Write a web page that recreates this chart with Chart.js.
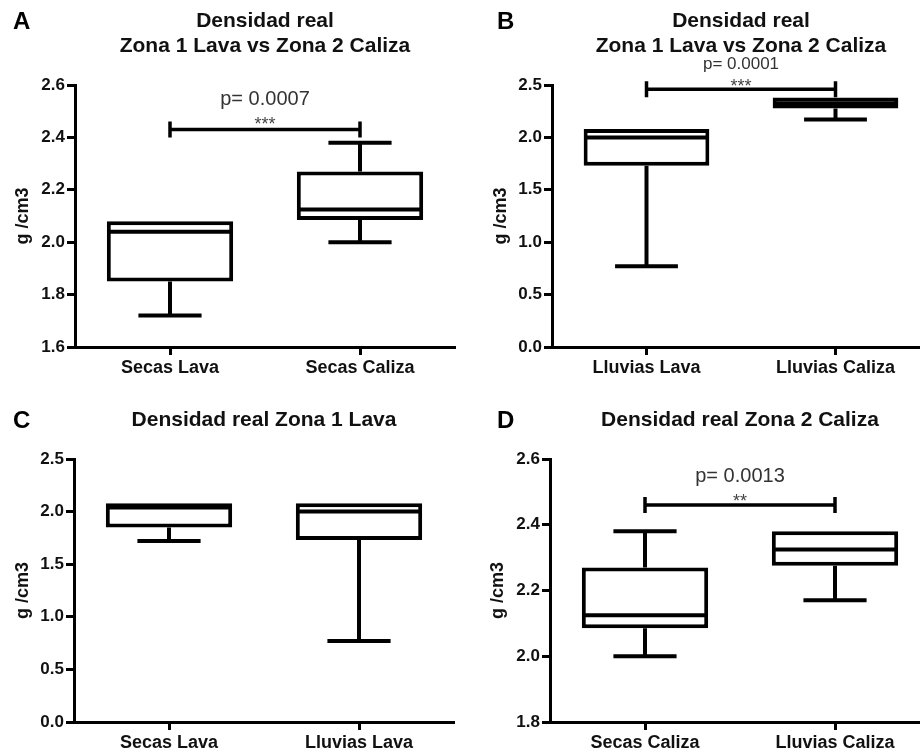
<!DOCTYPE html>
<html>
<head>
<meta charset="utf-8">
<script src="https://cdn.jsdelivr.net/npm/chart.js@4.4.1/dist/chart.umd.min.js"></script>
<style>
  body { margin: 0; background: #fff; }
  .panel { position: absolute; overflow: hidden; }
</style>
</head>
<body>
<div class="panel" style="left:0;top:0;width:460px;height:375px"><canvas id="pA" width="460" height="375"></canvas></div>
<div class="panel" style="left:460px;top:0;width:460px;height:375px"><canvas id="pB" width="470" height="375"></canvas></div>
<div class="panel" style="left:0;top:375px;width:460px;height:376px"><canvas id="pC" width="460" height="376"></canvas></div>
<div class="panel" style="left:460px;top:375px;width:460px;height:376px"><canvas id="pD" width="470" height="376"></canvas></div>

<script>
// ********* Data (box plot summaries, g/cm3) *********
const groups  = ['Secas Lava', 'Secas Caliza', 'Lluvias Lava', 'Lluvias Caliza'];
const mins    = [1.72, 2.00, 0.77, 2.17];
const q1s     = [1.85, 2.085, 1.73, 2.275];
const medians = [2.04, 2.125, 2.00, 2.325];
const q3s     = [2.08, 2.27, 2.08, 2.38];
const maxs    = [2.08, 2.38, 2.08, 2.38];

// which groups go in each panel
const panelMembers = [[0, 1], [2, 3], [0, 2], [1, 3]];
const panelLetters = ['A', 'B', 'C', 'D'];
const panelTitles  = [
  ['Densidad real', 'Zona 1 Lava vs Zona 2 Caliza'],
  ['Densidad real', 'Zona 1 Lava vs Zona 2 Caliza'],
  ['Densidad real Zona 1 Lava'],
  ['Densidad real Zona 2 Caliza']
];
const yMins  = [1.6, 0.0, 0.0, 1.8];
const yMaxs  = [2.6, 2.5, 2.5, 2.6];
const ySteps = [0.2, 0.5, 0.5, 0.2];

// significance annotations
const pValues = ['p= 0.0007', 'p= 0.0001', null, 'p= 0.0013'];
const stars   = ['***', '***', null, '**'];
const sigBarY = [2.43, 2.46, null, 2.46];

const FONT = "'Liberation Sans', Arial, sans-serif";

// ********* layout per panel (pixels, not data) *********
const layouts = [
  { id: 'pA', pad: { top: 85, left: 12, right: 5, bottom: 0 }, yW: 63, xH: 28, letterX: 13, letterY: 22, titleY: [21, 46], pSize: 20, pOff: 30, sOff: 10 },
  { id: 'pB', pad: { top: 85, left: 30, right: 0, bottom: 0 }, yW: 62, xH: 28, letterX: 37, letterY: 22, titleY: [21, 46], pSize: 17, pOff: 25, sOff: 7 },
  { id: 'pC', pad: { top: 84, left: 12, right: 6, bottom: 0 }, yW: 62, xH: 29, letterX: 13, letterY: 46, titleY: [45] },
  { id: 'pD', pad: { top: 84, left: 27, right: 0, bottom: 0 }, yW: 63, xH: 29, letterX: 37, letterY: 46, titleY: [45], pSize: 20, pOff: 29, sOff: 8 }
];

// ********* plugin: whiskers, medians, titles, significance *********
const boxExtras = {
  id: 'boxExtras',
  afterDatasetsDraw(chart) {
    const k = chart.options.plugins.boxExtras.panel;
    const members = panelMembers[k];
    const ctx = chart.ctx;
    const xs = chart.scales.x, ys = chart.scales.y;
    const bars = chart.getDatasetMeta(0).data;
    ctx.save();
    ctx.strokeStyle = '#000';
    ctx.lineWidth = 4;
    ctx.lineCap = 'butt';
    members.forEach((g, j) => {
      const x = xs.getPixelForValue(j);
      const half = bars[j].width / 2;
      const cap = half / 2;
      ctx.beginPath();
      // median
      ctx.moveTo(x - half + 1, ys.getPixelForValue(medians[g]));
      ctx.lineTo(x + half - 1, ys.getPixelForValue(medians[g]));
      // upper whisker
      if (maxs[g] > q3s[g]) {
        ctx.moveTo(x, ys.getPixelForValue(q3s[g]));
        ctx.lineTo(x, ys.getPixelForValue(maxs[g]));
        ctx.moveTo(x - cap, ys.getPixelForValue(maxs[g]));
        ctx.lineTo(x + cap, ys.getPixelForValue(maxs[g]));
      }
      // lower whisker
      if (mins[g] < q1s[g]) {
        ctx.moveTo(x, ys.getPixelForValue(q1s[g]));
        ctx.lineTo(x, ys.getPixelForValue(mins[g]));
        ctx.moveTo(x - cap, ys.getPixelForValue(mins[g]));
        ctx.lineTo(x + cap, ys.getPixelForValue(mins[g]));
      }
      ctx.stroke();
    });

    // significance bar
    if (sigBarY[k] !== null) {
      const L = layouts[k];
      const x0 = xs.getPixelForValue(0), x1 = xs.getPixelForValue(1);
      const y = ys.getPixelForValue(sigBarY[k]);
      ctx.lineWidth = 3.5;
      ctx.beginPath();
      ctx.moveTo(x0, y); ctx.lineTo(x1, y);
      ctx.moveTo(x0, y - 8); ctx.lineTo(x0, y + 8);
      ctx.moveTo(x1, y - 8); ctx.lineTo(x1, y + 8);
      ctx.stroke();
      const xm = (x0 + x1) / 2;
      ctx.fillStyle = '#333';
      ctx.textAlign = 'center';
      ctx.textBaseline = 'middle';
      ctx.font = L.pSize + 'px ' + FONT;
      ctx.fillText(pValues[k], xm, y - L.pOff);
      ctx.fillStyle = '#444';
      ctx.font = '18px ' + FONT;
      ctx.textBaseline = 'alphabetic';
      ctx.fillText(stars[k], xm, y - L.sOff + 10);
    }
    ctx.restore();
  },
  afterDraw(chart) {
    const k = chart.options.plugins.boxExtras.panel;
    const L = layouts[k];
    const ctx = chart.ctx;
    const a = chart.chartArea;
    ctx.save();
    ctx.fillStyle = '#111';
    ctx.textBaseline = 'middle';
    ctx.textAlign = 'center';
    ctx.font = 'bold 21px ' + FONT;
    panelTitles[k].forEach((t, i) => ctx.fillText(t, (a.left + a.right) / 2, L.titleY[i]));
    ctx.textAlign = 'left';
    ctx.fillStyle = '#000';
    ctx.font = 'bold 24px ' + FONT;
    ctx.fillText(panelLetters[k], L.letterX, L.letterY);
    ctx.restore();
  }
};

const makePanel = (k) => {
  const L = layouts[k];
  const members = panelMembers[k];
  new Chart(document.getElementById(L.id), {
    type: 'bar',
    data: {
      labels: members.map(g => groups[g]),
      datasets: [{
        data: members.map(g => [q1s[g], q3s[g]]),
        backgroundColor: '#fff',
        borderColor: '#000',
        borderWidth: 4,
        borderSkipped: false,
        categoryPercentage: 1.0,
        barPercentage: 0.665
      }]
    },
    options: {
      responsive: false,
      animation: false,
      devicePixelRatio: 1,
      layout: { padding: L.pad },
      plugins: {
        legend: { display: false },
        title: { display: false },
        tooltip: { enabled: false },
        boxExtras: { panel: k }
      },
      scales: {
        x: {
          offset: true,
          grid: { display: true, drawOnChartArea: false, offset: false, tickLength: 8, tickWidth: 3, tickColor: '#000' },
          border: { display: true, color: '#000', width: 3 },
          ticks: { color: '#111', font: { family: FONT, size: 18, weight: 'bold' }, padding: 2, maxRotation: 0, autoSkip: false },
          afterFit: s => { s.height = L.xH; }
        },
        y: {
          min: yMins[k],
          max: yMaxs[k],
          grid: { drawOnChartArea: false, tickLength: 8, tickWidth: 3, tickColor: '#000' },
          border: { display: true, color: '#000', width: 3 },
          ticks: { stepSize: ySteps[k], color: '#111', padding: 2, font: { family: FONT, size: 17, weight: 'bold' },
                   callback: v => Number(v).toFixed(1) },
          title: { display: true, text: 'g /cm3', color: '#111', padding: { top: 0, bottom: 0 },
                   font: { family: FONT, size: 18, weight: 'bold' } },
          afterFit: s => { s.width = L.yW; }
        }
      }
    },
    plugins: [boxExtras]
  });
};

[0, 1, 2, 3].forEach(makePanel);
</script>
</body>
</html>
